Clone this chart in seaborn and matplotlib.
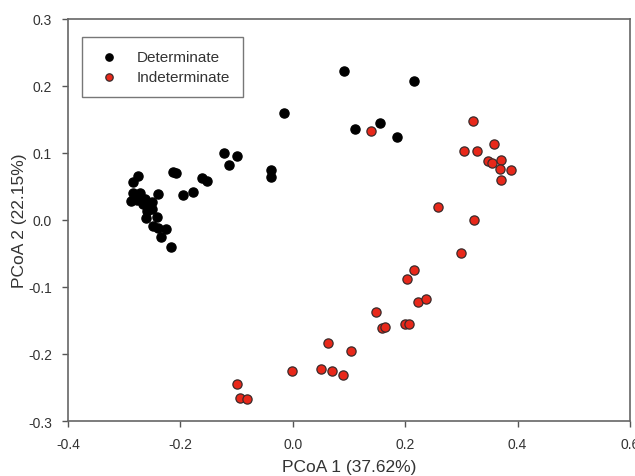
import matplotlib
matplotlib.use("Agg")
import matplotlib.pyplot as plt
import seaborn as sns
import pandas as pd

det_x = [0.091, 0.216, -0.015, 0.110, 0.155, 0.185,
         -0.123, -0.100, -0.114, -0.038, -0.038,
         -0.213, -0.207, -0.162, -0.153,
         -0.276, -0.285, -0.195, -0.178, -0.239,
         -0.284, -0.272, -0.287, -0.277,
         -0.267, -0.258, -0.251, -0.260, -0.251, -0.263,
         -0.261, -0.242, -0.248, -0.239, -0.225, -0.235, -0.217]
det_y = [0.222, 0.207, 0.159, 0.136, 0.145, 0.124,
         0.0996, 0.095, 0.082, 0.075, 0.064,
         0.072, 0.070, 0.063, 0.058,
         0.065, 0.056, 0.037, 0.041, 0.038,
         0.040, 0.040, 0.029, 0.030,
         0.024, 0.019, 0.027, 0.013, 0.016, 0.031,
         0.0025, 0.004, -0.009, -0.012, -0.013, -0.025, -0.040]

ind_x = [0.320, 0.358, 0.304, 0.328, 0.348, 0.355, 0.370, 0.368, 0.389, 0.370,
         0.258, 0.322, 0.140, 0.300,
         0.215, 0.204, 0.223, 0.237, 0.149, 0.159, 0.165, 0.200, 0.206,
         0.063, 0.104, -0.0005, 0.050, 0.070, 0.090, -0.100, -0.093, -0.082]
ind_y = [0.148, 0.113, 0.103, 0.103, 0.088, 0.085, 0.090, 0.076, 0.075, 0.060,
         0.020, 0.0004, 0.133, -0.049,
         -0.074, -0.088, -0.123, -0.118, -0.138, -0.161, -0.159, -0.156, -0.156,
         -0.184, -0.196, -0.226, -0.223, -0.225, -0.232, -0.245, -0.265, -0.267]

groups = ["Determinate", "Indeterminate"]
x_ticks = [-0.4, -0.2, 0.0, 0.2, 0.4, 0.6]
y_ticks = [-0.3, -0.2, -0.1, 0.0, 0.1, 0.2, 0.3]

df = pd.DataFrame({
    "x": det_x + ind_x,
    "y": det_y + ind_y,
    "group": [groups[0]] * len(det_x) + [groups[1]] * len(ind_x),
})

sns.set_style("white")
plt.rcParams["font.family"] = ["Liberation Sans", "DejaVu Sans"]

fig = plt.figure(figsize=(6.35, 4.77), dpi=100)
ax = fig.add_axes([0.107, 0.1153, 0.885, 0.843])

palette = {groups[0]: "black", groups[1]: "#e8281a"}
edges = {groups[0]: "black", groups[1]: "#3a2a2a"}
for g in groups:
    sub = df[df["group"] == g]
    sns.scatterplot(data=sub, x="x", y="y", ax=ax, color=palette[g],
                    edgecolor=edges[g], linewidth=0.9, s=44, label=g, zorder=3)

ax.set_xlim(-0.4, 0.6)
ax.set_ylim(-0.3, 0.3)
ax.set_xticks(x_ticks)
ax.set_yticks(y_ticks)
ax.set_xticklabels([f"{v:.1f}" for v in x_ticks])
ax.set_yticklabels([f"{v:.1f}" for v in y_ticks])
ax.tick_params(axis="both", direction="out", length=4.5, width=1, color="#555555",
               labelsize=10, labelcolor="#333333", bottom=True, left=True)
ax.tick_params(axis="x", pad=7)
ax.tick_params(axis="y", pad=7)
for sp in ax.spines.values():
    sp.set_color("#666666")
    sp.set_linewidth(1.2)
ax.set_xlabel("PCoA 1 (37.62%)", fontsize=12.5, color="#333333", labelpad=5.5)
ax.set_ylabel("PCoA 2 (22.15%)", fontsize=12.5, color="#333333", labelpad=1)

leg = ax.legend(loc="upper left", bbox_to_anchor=(0.025, 0.955), frameon=True,
                fancybox=False, edgecolor="#555555", fontsize=11,
                handlelength=1.9, handletextpad=0.85, borderpad=0.85,
                labelspacing=0.4, markerscale=0.8, borderaxespad=0)
leg.get_frame().set_linewidth(1.0)
for t in leg.get_texts():
    t.set_color("#333333")

fig.savefig("out.png", dpi=100)
